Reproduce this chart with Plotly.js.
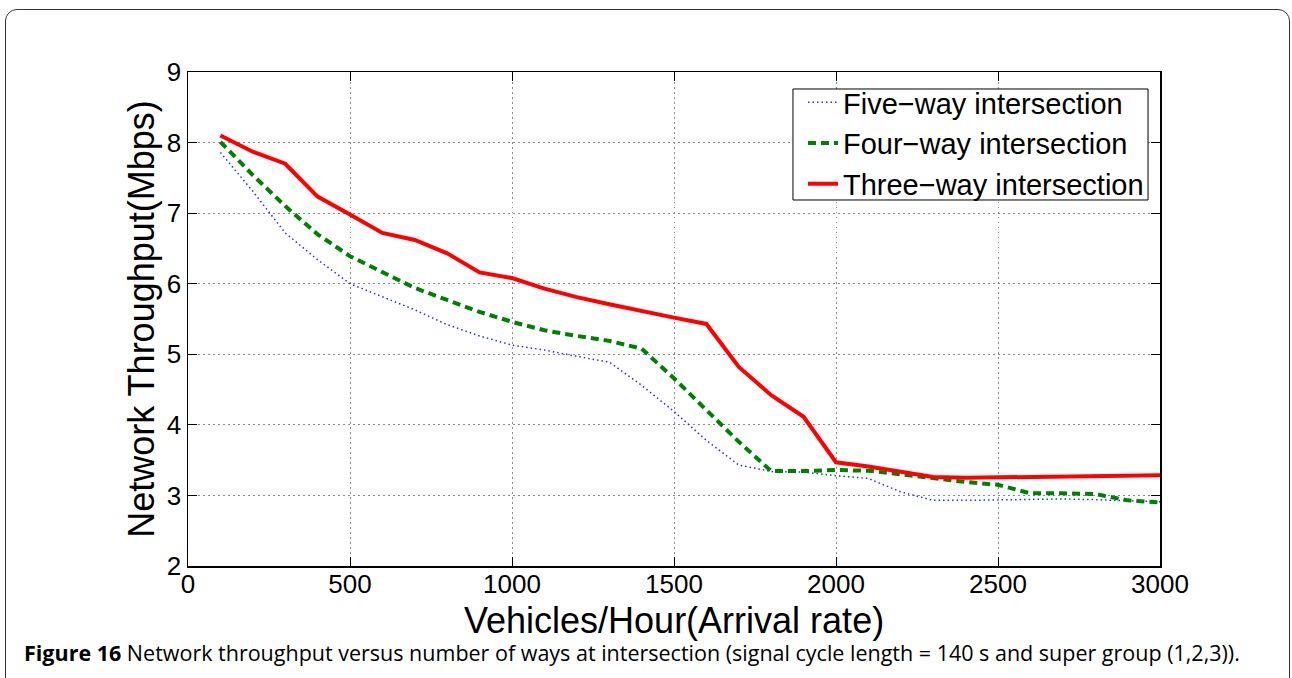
<!DOCTYPE html>
<html>
<head>
<meta charset="utf-8">
<script src="https://cdn.plot.ly/plotly-3.0.1.min.js"></script>
<style>
  html, body { margin:0; padding:0; background:#fff; overflow:hidden; }
  #chart { position:absolute; left:0; top:0; width:1292px; height:678px; }
  #frame { position:absolute; left:5px; top:9px; width:1283px; height:720px;
           border:1.5px solid #333; border-radius:12px; pointer-events:none; }
</style>
</head>
<body>
<div id="chart"></div>
<div id="frame"></div>
<script>
// Arrival rate (vehicles/hour)
const arrivalRate = [100,200,300,400,500,600,700,800,900,1000,1100,1200,1300,1400,1500,
                     1600,1700,1800,1900,2000,2100,2200,2300,2400,2500,2600,2700,2800,2900,3000];
// Network throughput (Mbps)
const fiveWay  = [7.86,7.31,6.72,6.34,6.00,5.82,5.63,5.42,5.26,5.13,5.06,4.97,4.89,4.56,4.19,
                  3.78,3.43,3.34,3.33,3.28,3.24,3.05,2.93,2.93,2.94,2.95,2.95,2.94,2.92,2.91];
const fourWay  = [8.01,7.54,7.10,6.70,6.39,6.16,5.94,5.77,5.60,5.46,5.34,5.26,5.19,5.08,4.66,
                  4.21,3.76,3.345,3.345,3.36,3.35,3.30,3.24,3.19,3.15,3.03,3.03,3.02,2.93,2.90];
const threeWay = [8.10,7.87,7.70,7.235,6.98,6.72,6.62,6.43,6.16,6.08,5.93,5.81,5.71,5.61,5.52,
                  5.43,4.82,4.42,4.115,3.47,3.41,3.335,3.26,3.25,3.255,3.26,3.27,3.275,3.28,3.285];
const seriesNames = ['Five\u2212way intersection','Four\u2212way intersection','Three\u2212way intersection'];
const xTicks = [0,500,1000,1500,2000,2500,3000];
const yTicks = [2,3,4,5,6,7,8,9];
const xTitle = 'Vehicles/Hour(Arrival rate)';
const yTitle = 'Network Throughput(Mbps)';
const caption = '<b>Figure 16</b> Network throughput versus number of ways at intersection (signal cycle length = 140 s and super group (1,2,3)).';

const traces = [
  {x:arrivalRate, y:fiveWay, name:seriesNames[0], type:'scatter', mode:'lines',
   line:{color:'#2a2aff', width:1.5, dash:'1.5px,3px'}},
  {x:arrivalRate, y:fourWay, name:seriesNames[1], type:'scatter', mode:'lines',
   line:{color:'#008000', width:4, dash:'8px,5px'}},
  {x:arrivalRate, y:threeWay, name:seriesNames[2], type:'scatter', mode:'lines',
   line:{color:'#ff0000', width:4}}
];

const axisCommon = {
  showline:true, linecolor:'black', linewidth:1.5, mirror:'ticks',
  ticks:'inside', ticklen:9, tickcolor:'black', tickwidth:1,
  showgrid:true, gridcolor:'#8a8a8a', gridwidth:1, griddash:'1.5px,3.5px',
  zeroline:false, tickfont:{size:26, color:'black'}
};

const layout = {
  width:1292, height:678,
  margin:{l:188, r:132, t:72, b:112},
  paper_bgcolor:'rgba(0,0,0,0)', plot_bgcolor:'white',
  font:{family:'"Liberation Sans", Arial, sans-serif', color:'black'},
  showlegend:true,
  xaxis: Object.assign({}, axisCommon, {
    range:[0,3000], tickvals:xTicks, ticktext:xTicks.map(String),
    ticklabelstandoff:-6
  }),
  yaxis: Object.assign({}, axisCommon, {
    range:[2,9], tickvals:yTicks, ticktext:yTicks.map(String),
    ticklabelstandoff:0,
    title:{text:yTitle, font:{size:36, color:'black'}, standoff:1}
  }),
  legend:{
    x:0.6327, xanchor:'left', y:0.9899, yanchor:'top',
    bgcolor:'rgba(0,0,0,0)', borderwidth:0,
    font:{size:29, color:'black'}, tracegroupgap:0
  },
  shapes:[{
    type:'rect', xref:'paper', yref:'paper', layer:'above',
    x0:0.6224, x1:0.9877, y0:0.7409, y1:0.9656,
    line:{color:'black', width:1}, fillcolor:'white'
  }],
  annotations:[{
    xref:'paper', yref:'paper', x:0.5, y:-0.1113, xanchor:'center', yanchor:'middle',
    showarrow:false, borderpad:0, text:xTitle, font:{size:36, color:'black'}
  },{
    xref:'paper', yref:'paper', x:-0.1708, y:-0.176, xanchor:'left', yanchor:'middle',
    showarrow:false, align:'left', text:caption,
    font:{family:'"Open Sans", "Noto Sans", sans-serif', size:21.5, color:'black'}
  }]
};

Plotly.newPlot('chart', traces, layout, {displayModeBar:false, staticPlot:true});
</script>
</body>
</html>
